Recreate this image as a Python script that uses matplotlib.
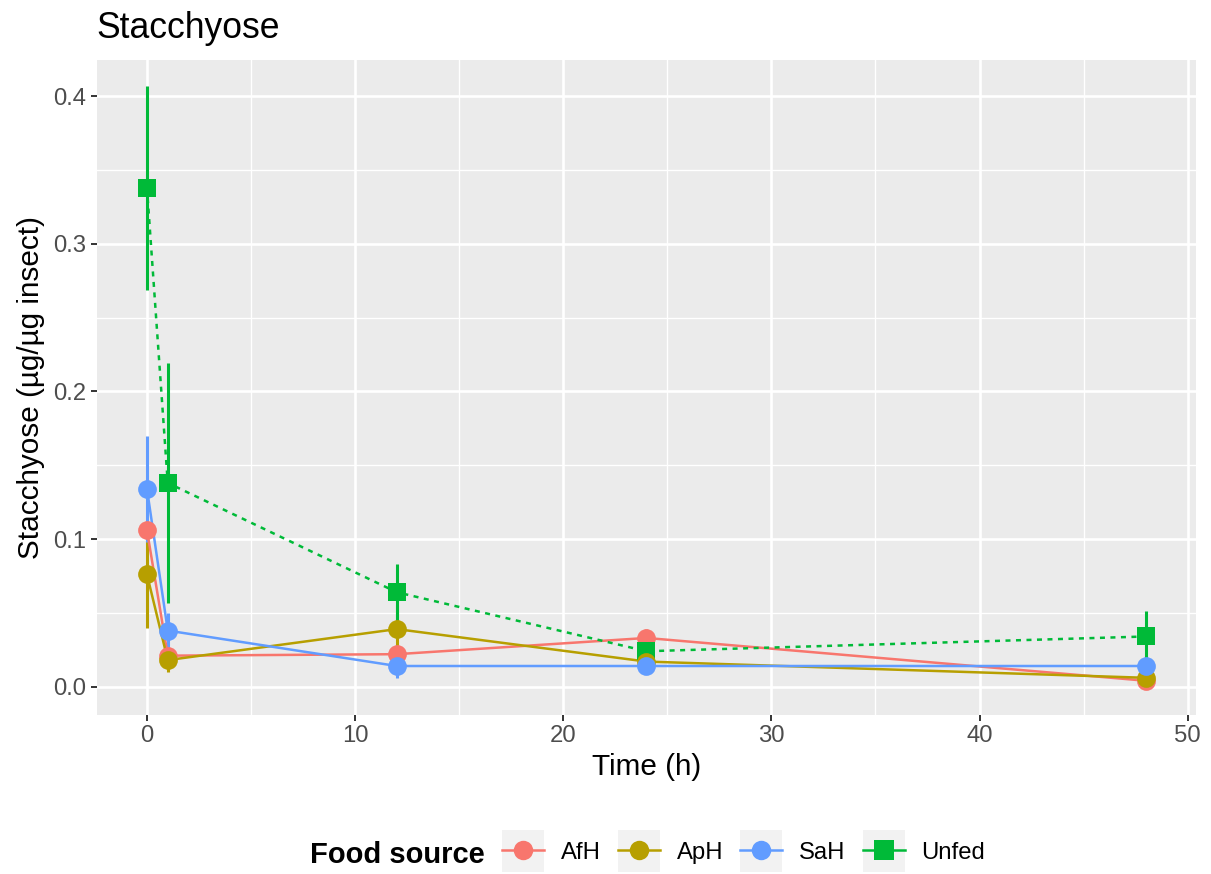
import numpy as np
import matplotlib
matplotlib.use("Agg")
import matplotlib.pyplot as plt
from matplotlib.lines import Line2D
from matplotlib.patches import Rectangle
from matplotlib.legend_handler import HandlerLine2D

plt.rcParams['font.family'] = ['Liberation Sans', 'DejaVu Sans']

# data
time_h = [0, 1, 12, 24, 48]
groups = ['AfH', 'ApH', 'SaH', 'Unfed']
means = {
    'AfH':   [0.106, 0.021, 0.022, 0.033, 0.004],
    'ApH':   [0.076, 0.018, 0.039, 0.017, 0.006],
    'SaH':   [0.134, 0.038, 0.014, 0.014, 0.014],
    'Unfed': [0.338, 0.138, 0.064, 0.024, 0.034],
}
errors = {
    'AfH':   [0.004, 0.003, 0.003, 0.006, 0.002],
    'ApH':   [0.036, 0.008, 0.016, 0.004, 0.002],
    'SaH':   [0.036, 0.012, 0.008, 0.003, 0.002],
    'Unfed': [0.069, 0.081, 0.019, 0.006, 0.017],
}
colors = {'AfH': '#F8766D', 'ApH': '#B79F00', 'SaH': '#619CFF', 'Unfed': '#00BA38'}
markers = {'AfH': 'o', 'ApH': 'o', 'SaH': 'o', 'Unfed': 's'}
styles = {'AfH': '-', 'ApH': '-', 'SaH': '-', 'Unfed': (0, (2, 2.2))}
zorders = {'AfH': 3.0, 'Unfed': 3.1, 'ApH': 3.2, 'SaH': 3.3}

fig = plt.figure(figsize=(12.11, 8.74), dpi=100)
ax = fig.add_axes([0.0801, 0.1819, 0.9075, 0.7495])
ax.set_facecolor('#EBEBEB')
for s in ax.spines.values():
    s.set_visible(False)

# grid
ax.set_xlim(-2.4, 50.4)
ax.set_ylim(-0.0192, 0.4245)
ax.set_xticks([0, 10, 20, 30, 40, 50])
ax.set_yticks([0.0, 0.1, 0.2, 0.3, 0.4])
ax.set_yticklabels(['0.0', '0.1', '0.2', '0.3', '0.4'])
ax.set_xticks([5, 15, 25, 35, 45], minor=True)
ax.set_yticks([0.05, 0.15, 0.25, 0.35], minor=True)
ax.grid(which='major', color='white', linewidth=1.9, zorder=0)
ax.grid(which='minor', color='white', linewidth=0.95, zorder=0)
ax.set_axisbelow(True)
ax.tick_params(which='minor', length=0)
ax.tick_params(which='major', length=4, width=1.4, color='#333333',
               labelsize=17.2, labelcolor='#4D4D4D', pad=3.5)

handles = []
for g in groups:
    c = colors[g]
    z = zorders[g]
    ax.vlines(time_h, np.array(means[g]) - np.array(errors[g]),
              np.array(means[g]) + np.array(errors[g]),
              color=c, linewidth=2.2, zorder=2)
    ax.plot(time_h, means[g], color=c, linewidth=1.8, linestyle=styles[g], zorder=2.5)
    ax.plot(time_h, means[g], linestyle='none', marker=markers[g], color=c,
            markersize=13.5, markeredgewidth=0, zorder=z)
    handles.append(Line2D([], [], color=c, linewidth=1.8, marker=markers[g],
                          markersize=14, markeredgewidth=0))

ax.set_xlabel('Time (h)', fontsize=21.4, labelpad=4)
ax.set_ylabel('Stacchyose (µg/µg insect)', fontsize=21.4, labelpad=6)
ax.set_title('Stacchyose', fontsize=25.6, loc='left', x=-0.001, pad=16)


class BoxHandler(HandlerLine2D):
    def create_artists(self, legend, orig_handle, xdescent, ydescent,
                       width, height, fontsize, trans):
        arts = super().create_artists(legend, orig_handle, xdescent, ydescent,
                                      width, height, fontsize, trans)
        pad = (width - height) / 2
        rect = Rectangle((-xdescent, -ydescent - pad), width, height + 2 * pad,
                         facecolor='#F2F2F2', edgecolor='none', transform=trans)
        return [rect] + list(arts)


fig.text(0.256, 0.0215, 'Food source', fontsize=21, fontweight='bold',
         ha='left', va='center')
fig.legend(handles, groups, loc='center left', bbox_to_anchor=(0.4145, 0.0246),
           ncol=4, frameon=False, fontsize=17.2, handlelength=1.76, handleheight=1.0,
           handletextpad=0.7, columnspacing=0.72, borderaxespad=0, borderpad=0,
           handler_map={Line2D: BoxHandler()})

fig.savefig('out.png', dpi=100)
